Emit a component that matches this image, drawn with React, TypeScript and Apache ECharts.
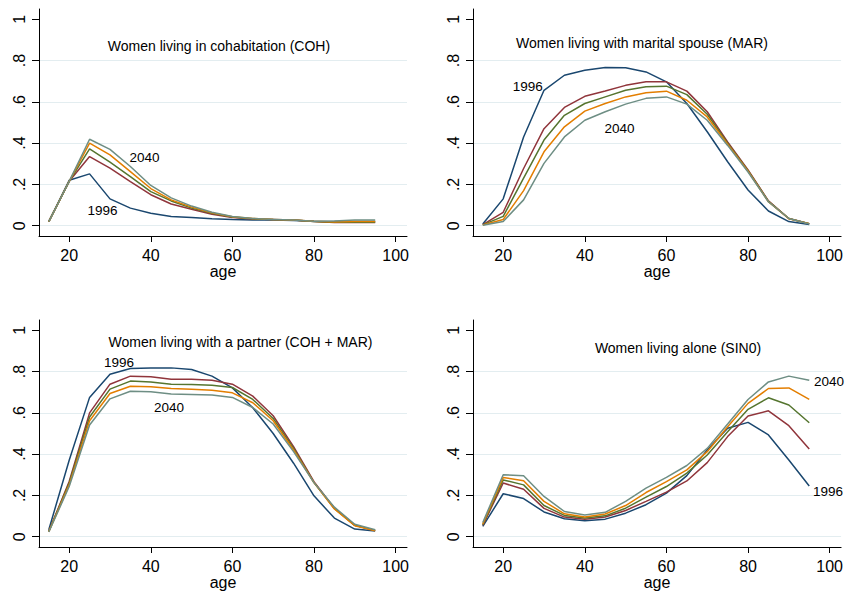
import React, { useEffect, useRef } from "react";
import * as echarts from "echarts";

const ages = [15, 20, 25, 30, 35, 40, 45, 50, 55, 60, 65, 70, 75, 80, 85, 90, 95];
const years = ["1996", "2010", "2020", "2030", "2040"];
const colors = ["#1a476f", "#90353b", "#55752f", "#e37e00", "#6e8e84"];

const xTicks = [20, 40, 60, 80, 100];
const yTicks = [0, 0.2, 0.4, 0.6, 0.8, 1];
const yTickLabels = ["0", ".2", ".4", ".6", ".8", "1"];

// Women living in cohabitation (COH)
const coh1996 = [0.02, 0.22, 0.251, 0.13, 0.085, 0.06, 0.045, 0.04, 0.033, 0.03, 0.028, 0.027, 0.025, 0.022, 0.02, 0.02, 0.02];
const coh2010 = [0.02, 0.215, 0.335, 0.279, 0.214, 0.15, 0.105, 0.08, 0.055, 0.04, 0.032, 0.03, 0.027, 0.02, 0.016, 0.015, 0.015];
const coh2020 = [0.02, 0.215, 0.372, 0.308, 0.238, 0.165, 0.12, 0.085, 0.06, 0.042, 0.033, 0.03, 0.027, 0.02, 0.017, 0.018, 0.017];
const coh2030 = [0.02, 0.215, 0.4, 0.343, 0.262, 0.18, 0.125, 0.09, 0.062, 0.043, 0.035, 0.03, 0.027, 0.022, 0.018, 0.02, 0.02];
const coh2040 = [0.02, 0.215, 0.419, 0.37, 0.287, 0.195, 0.135, 0.095, 0.065, 0.045, 0.035, 0.03, 0.027, 0.022, 0.023, 0.027, 0.027];

// Women living with marital spouse (MAR)
const mar1996 = [0.008, 0.13, 0.43, 0.656, 0.729, 0.753, 0.766, 0.765, 0.745, 0.697, 0.592, 0.455, 0.31, 0.173, 0.071, 0.02, 0.006];
const mar2010 = [0.005, 0.065, 0.277, 0.47, 0.573, 0.627, 0.653, 0.68, 0.697, 0.697, 0.652, 0.552, 0.406, 0.27, 0.12, 0.035, 0.01];
const mar2020 = [0.004, 0.045, 0.23, 0.415, 0.535, 0.592, 0.624, 0.656, 0.673, 0.676, 0.635, 0.54, 0.4, 0.266, 0.118, 0.035, 0.01];
const mar2030 = [0.003, 0.03, 0.17, 0.358, 0.479, 0.555, 0.592, 0.624, 0.644, 0.652, 0.608, 0.527, 0.395, 0.264, 0.116, 0.034, 0.01];
const mar2040 = [0.002, 0.02, 0.125, 0.302, 0.43, 0.511, 0.552, 0.589, 0.617, 0.624, 0.589, 0.511, 0.389, 0.26, 0.116, 0.035, 0.008];

// Women living with a partner (COH + MAR)
const par1996 = [0.034, 0.37, 0.675, 0.787, 0.815, 0.818, 0.818, 0.81, 0.778, 0.721, 0.625, 0.5, 0.356, 0.198, 0.09, 0.037, 0.027];
const par2010 = [0.026, 0.267, 0.6, 0.739, 0.778, 0.775, 0.763, 0.763, 0.758, 0.739, 0.681, 0.586, 0.436, 0.267, 0.138, 0.055, 0.03];
const par2020 = [0.025, 0.26, 0.58, 0.715, 0.754, 0.75, 0.739, 0.738, 0.734, 0.723, 0.665, 0.573, 0.428, 0.262, 0.137, 0.055, 0.03];
const par2030 = [0.024, 0.251, 0.562, 0.694, 0.729, 0.726, 0.718, 0.715, 0.71, 0.697, 0.649, 0.562, 0.42, 0.262, 0.134, 0.053, 0.029];
const par2040 = [0.023, 0.243, 0.541, 0.668, 0.705, 0.702, 0.691, 0.689, 0.686, 0.675, 0.626, 0.546, 0.412, 0.262, 0.143, 0.06, 0.034];

// Women living alone (SIN0)
const sin1996 = [0.05, 0.208, 0.185, 0.12, 0.087, 0.077, 0.085, 0.114, 0.155, 0.211, 0.296, 0.42, 0.525, 0.554, 0.493, 0.372, 0.246];
const sin2010 = [0.055, 0.26, 0.23, 0.137, 0.095, 0.085, 0.095, 0.127, 0.171, 0.216, 0.27, 0.359, 0.485, 0.585, 0.61, 0.538, 0.425];
const sin2020 = [0.058, 0.275, 0.251, 0.151, 0.103, 0.09, 0.101, 0.138, 0.192, 0.243, 0.308, 0.396, 0.509, 0.617, 0.673, 0.638, 0.552];
const sin2030 = [0.062, 0.287, 0.271, 0.171, 0.111, 0.095, 0.11, 0.151, 0.214, 0.267, 0.324, 0.412, 0.533, 0.646, 0.718, 0.721, 0.665];
const sin2040 = [0.069, 0.3, 0.295, 0.195, 0.122, 0.105, 0.118, 0.171, 0.235, 0.287, 0.345, 0.428, 0.546, 0.665, 0.75, 0.778, 0.758];

const panelTitles = [
  "Women living in cohabitation (COH)",
  "Women living with marital spouse (MAR)",
  "Women living with a partner (COH + MAR)",
  "Women living alone (SIN0)",
];
const panelData = [
  [coh1996, coh2010, coh2020, coh2030, coh2040],
  [mar1996, mar2010, mar2020, mar2030, mar2040],
  [par1996, par2010, par2020, par2030, par2040],
  [sin1996, sin2010, sin2020, sin2030, sin2040],
];

const FONT = "'Liberation Sans', Arial, sans-serif";

export default function App() {
  const ref = useRef<HTMLDivElement>(null);
  useEffect(() => {
    document.body.style.margin = "0";
    const chart = echarts.init(ref.current!, null, { renderer: "svg" });

    const grids = [
      { left: 39, top: 9, width: 368, height: 227 },
      { left: 473, top: 9, width: 368.5, height: 227 },
      { left: 39, top: 320, width: 368, height: 227 },
      { left: 473, top: 320, width: 368.5, height: 227 },
    ];

    const xAxis = grids.map((_, i) => ({
      type: "value",
      gridIndex: i,
      min: 12.6,
      max: 102.8,
      name: "age",
      nameLocation: "middle",
      nameGap: 27,
      nameTextStyle: { fontSize: 16, color: "#000", fontFamily: FONT },
      axisLine: { show: true, onZero: false, lineStyle: { color: "#000", width: 1 } },
      axisTick: { show: true, length: 6, customValues: xTicks, lineStyle: { color: "#000" } },
      axisLabel: { customValues: xTicks, margin: 11, fontSize: 16, color: "#000", fontFamily: FONT },
      splitLine: { show: false },
    }));

    const gridColor = "#e3edf0";
    const yAxis = grids.map((_, i) => ({
      type: "value",
      gridIndex: i,
      min: -0.05,
      max: 1.05,
      axisLine: { show: true, onZero: false, lineStyle: { color: "#000", width: 1 } },
      axisTick: { show: true, length: 7, customValues: yTicks, lineStyle: { color: "#000" } },
      axisLabel: {
        customValues: yTicks,
        rotate: 90,
        margin: 12,
        fontSize: 16,
        color: "#000",
        fontFamily: FONT,
        formatter: (v: number) => {
          const idx = yTicks.findIndex((t) => Math.abs(t - v) < 1e-9);
          return idx >= 0 ? yTickLabels[idx] : "";
        },
      },
      splitLine: {
        show: true,
        lineStyle: {
          color: [gridColor, gridColor, gridColor, gridColor, gridColor, "rgba(0,0,0,0)"],
          width: 1,
        },
      },
    }));

    const series: any[] = [];
    panelData.forEach((sets, p) => {
      sets.forEach((vals, k) => {
        series.push({
          type: "line",
          name: years[k],
          xAxisIndex: p,
          yAxisIndex: p,
          data: ages.map((a, j) => [a, vals[j]]),
          showSymbol: false,
          symbol: "none",
          lineStyle: { color: colors[k], width: 1.5 },
          itemStyle: { color: colors[k] },
          z: 2 + k,
        });
      });
    });

    const titlePos = [
      [219, 45.7],
      [642, 43.3],
      [240.5, 341.7],
      [678, 348.3],
    ];
    const yearLabels = [
      ["2040", 144.5, 157],
      ["1996", 102.5, 210.5],
      ["1996", 527.7, 86],
      ["2040", 619.5, 128],
      ["1996", 119, 362.5],
      ["2040", 169, 407],
      ["2040", 829, 381],
      ["1996", 828, 491],
    ];

    const graphic: any[] = [];
    panelTitles.forEach((t, i) => {
      graphic.push({
        type: "text",
        x: titlePos[i][0],
        y: titlePos[i][1],
        z: 10,
        style: {
          text: t,
          fontSize: 14,
          fontFamily: FONT,
          fill: "#000",
          textAlign: "center",
          textVerticalAlign: "middle",
        },
      });
    });
    yearLabels.forEach(([t, x, y]) => {
      graphic.push({
        type: "text",
        x,
        y,
        z: 10,
        style: {
          text: t,
          fontSize: 13.5,
          fontFamily: FONT,
          fill: "#000",
          textAlign: "center",
          textVerticalAlign: "middle",
        },
      });
    });

    chart.setOption({
      animation: false,
      backgroundColor: "#fff",
      grid: grids,
      xAxis,
      yAxis,
      series,
      graphic,
    });
    return () => chart.dispose();
  }, []);
  return (
    <div
      ref={ref}
      style={{ width: 846, height: 595, position: "absolute", left: 0, top: 0 }}
    />
  );
}
